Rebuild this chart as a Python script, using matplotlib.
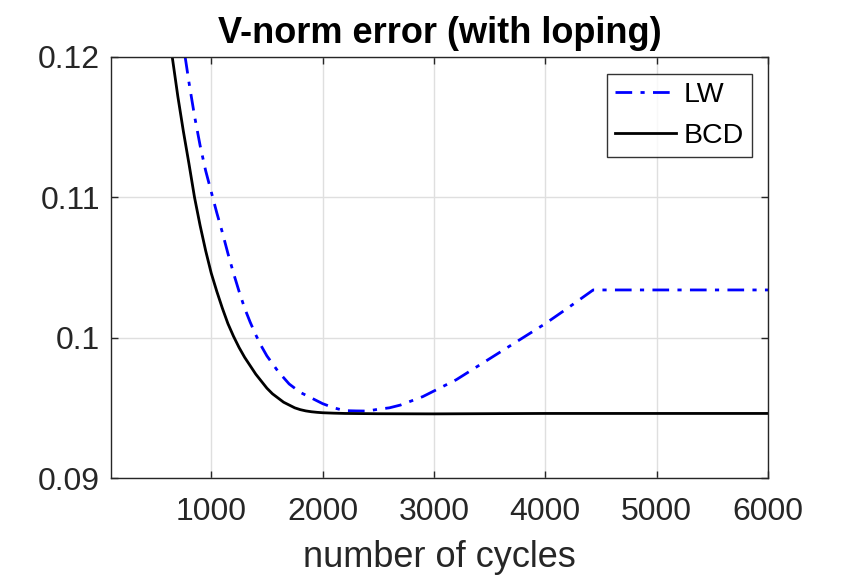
import numpy as np
import matplotlib
matplotlib.use("Agg")
import matplotlib.pyplot as plt

# values
cycles_lw = [766, 800, 850, 900, 950, 1000, 1050, 1100, 1150, 1200, 1250,
             1300, 1350, 1400, 1450, 1500, 1600, 1700, 1800, 1900, 2000,
             2100, 2200, 2300, 2400, 2500, 2600, 2700, 2800, 2900, 3000,
             3200, 3400, 3600, 3800, 4000, 4200, 4430, 5000, 6000]
err_lw = [0.1200, 0.1182, 0.1158, 0.1137, 0.1119, 0.1104, 0.1089, 0.1075,
          0.1060, 0.1046, 0.1033, 0.1021, 0.1011, 0.1002, 0.0994, 0.0987,
          0.0976, 0.0967, 0.0961, 0.0957, 0.0953, 0.0950, 0.0948, 0.09478,
          0.09477, 0.0949, 0.0950, 0.0952, 0.0955, 0.0958, 0.0962,
          0.0970, 0.0980, 0.0990, 0.1000, 0.1010, 0.1021, 0.1034,
          0.1034, 0.1034]

cycles_bcd = [650, 700, 750, 800, 850, 900, 950, 1000, 1050, 1100, 1150,
              1200, 1250, 1300, 1350, 1400, 1450, 1500, 1550, 1600, 1650,
              1700, 1750, 1800, 1850, 1900, 1950, 2000, 2100, 2200, 2500,
              3000, 4000, 5000, 6000]
err_bcd = [0.1200, 0.1172, 0.1147, 0.1124, 0.1100, 0.1080, 0.1062, 0.1046,
           0.1033, 0.1021, 0.1010, 0.1001, 0.0993, 0.0986, 0.0980, 0.0974,
           0.0969, 0.0964, 0.0960, 0.0957, 0.0954, 0.0952, 0.0950, 0.09487,
           0.09478, 0.09472, 0.09468, 0.09465, 0.09462, 0.0946, 0.09458,
           0.09457, 0.0946, 0.0946, 0.0946]

xticks = [1000, 2000, 3000, 4000, 5000, 6000]
yticks = [0.09, 0.1, 0.11, 0.12]
yticklabels = ["0.09", "0.1", "0.11", "0.12"]

plt.rcParams['font.family'] = ['Liberation Sans', 'DejaVu Sans']
dark = '#262626'

fig = plt.figure(figsize=(8.5, 5.8), dpi=100)
ax = fig.add_axes([111/850, 1-478/580, (768-111)/850, (478-57)/580])

ax.plot(cycles_lw, err_lw, color=(0, 0, 1), lw=2, dashes=(6, 3, 1.5, 3), label='LW')
ax.plot(cycles_bcd, err_bcd, color='black', lw=2, label='BCD')

ax.set_xlim(100, 6000)
ax.set_ylim(0.09, 0.12)
ax.set_xticks(xticks)
ax.set_xticklabels([str(t) for t in xticks])
ax.set_yticks(yticks)
ax.set_yticklabels(yticklabels)
ax.grid(True, color='#dfdfdf', lw=1)
ax.set_axisbelow(True)

ax.tick_params(direction='in', top=True, right=True, length=5, width=1,
               colors=dark, labelsize=23, labelcolor=dark)
ax.tick_params(axis='x', pad=14)
ax.tick_params(axis='y', pad=8)
for s in ax.spines.values():
    s.set_color(dark)
    s.set_linewidth(1)

ax.set_xlabel('number of cycles', fontsize=26, color=dark, labelpad=9)
ax.set_title('V-norm error (with loping)', fontsize=26, fontweight='bold', pad=10)

leg = ax.legend(loc='upper right', bbox_to_anchor=(0.976, 0.96), fontsize=20.5,
                frameon=True, fancybox=False, edgecolor='black',
                handlelength=2.15, handletextpad=0.25, borderpad=0.3,
                labelspacing=0.5, borderaxespad=0)
leg.get_frame().set_linewidth(1)

fig.savefig('out.png', dpi=100)
